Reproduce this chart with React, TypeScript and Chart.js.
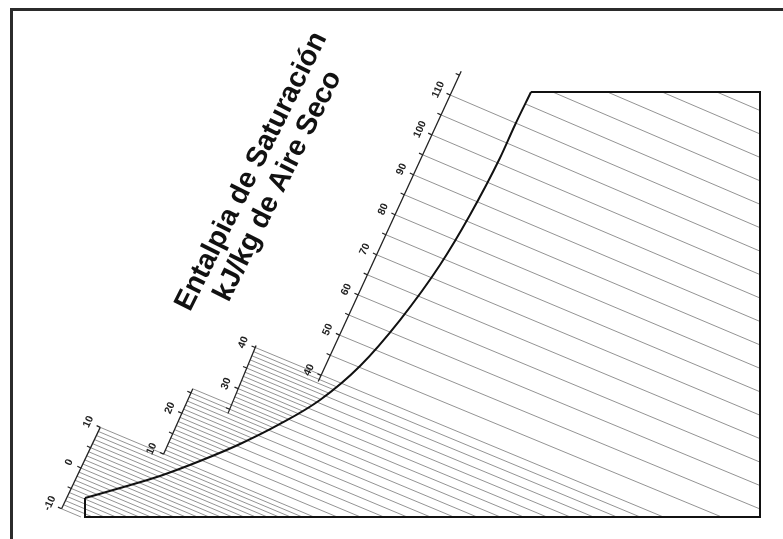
import React, { useEffect, useRef } from "react";
import { Chart, registerables } from "chart.js";

Chart.register(...registerables);

// ---- chart frame (dry-bulb temperature °C, humidity ratio g/kg) ----
const T_MIN = -9.6;
const T_MAX = 48;
const W_MAX = 35;

// Saturation curve
const SAT_T = [-9.6, -6.61, -3.2, 0.21, 3.63, 7.04, 10.45, 13.87, 17.28, 20.69, 23.25, 25.81, 27.09, 28.46];
const SAT_W = [1.56, 2.39, 3.38, 4.61, 6.01, 7.66, 9.64, 12.44, 16.22, 20.75, 24.87, 29.56, 32.28, 35.0];

// Enthalpy lines (kJ/kg dry air)
const LINES_FINE = [-10, -9, -8, -7, -6, -5, -4, -3, -2, -1, 0, 1, 2, 3, 4, 5, 6, 7, 8, 9, 10];
const LINES_MID = [12, 14, 16, 18, 20, 22, 24, 26, 28, 30, 32, 34, 36, 38];
const LINES_COARSE = [40, 45, 50, 55, 60, 65, 70, 75, 80, 85, 90, 95, 100, 105, 110, 115, 120, 125, 130, 135];
const LINES_SHORT = [11, 13, 15, 17, 19, 21, 23, 25, 27, 29, 31, 33, 35, 37, 39];

// Enthalpy scale pieces: enthalpy and dry-bulb temperature at each end
const SCALE_H_FROM = [-10, 10, 24, 38.5];
const SCALE_H_TO = [10, 26, 40.5, 116];
const SCALE_T_FROM = [-11.6, -2.9, 2.6, 10.3];
const SCALE_T_TO = [-8.3, -0.4, 5.0, 22.5];
const SCALE_TICKS = [
  [-10, -5, 0, 5, 10],
  [10, 15, 20, 25],
  [25, 30, 35, 40],
  [40, 45, 50, 55, 60, 65, 70, 75, 80, 85, 90, 95, 100, 105, 110, 115],
];
const SCALE_LABELS = [
  [-10, 0, 10],
  [10, 20],
  [30, 40],
  [40, 50, 60, 70, 80, 90, 100, 110],
];
const LAST_SCALE_LINE = 110;

const TITLE_1 = "Entalpia de Saturación";
const TITLE_2 = "kJ/kg de Aire Seco";

type P = { x: number; y: number };

const hOf = (t: number, w: number) => 1.006 * t + w * (2.501 + 0.00186 * t);
const wOn = (h: number, t: number) => (h - 1.006 * t) / (2.501 + 0.00186 * t);
const tOn = (h: number, w: number) => (h - 2.501 * w) / (1.006 + 0.00186 * w);

function segEnds(i: number): [P, P] {
  return [
    { x: SCALE_T_FROM[i], y: wOn(SCALE_H_FROM[i], SCALE_T_FROM[i]) },
    { x: SCALE_T_TO[i], y: wOn(SCALE_H_TO[i], SCALE_T_TO[i]) },
  ];
}

function onSeg(i: number, h: number): P {
  const [a, b] = segEnds(i);
  let lo = 0, hi = 1;
  for (let k = 0; k < 50; k++) {
    const m = (lo + hi) / 2;
    const v = hOf(a.x + (b.x - a.x) * m, a.y + (b.y - a.y) * m);
    if (v < h) lo = m; else hi = m;
  }
  const s = (lo + hi) / 2;
  return { x: a.x + (b.x - a.x) * s, y: a.y + (b.y - a.y) * s };
}

function scaleStart(h: number): P | null {
  if (h > LAST_SCALE_LINE) return null;
  let best: P | null = null;
  for (let i = 0; i < SCALE_H_FROM.length; i++) {
    if (h >= SCALE_H_FROM[i] - 1e-9 && h <= SCALE_H_TO[i] + 1e-9) {
      const p = onSeg(i, h);
      if (!best || p.x < best.x) best = p;
    }
  }
  return best;
}

function curveCross(h: number): P | null {
  for (let i = 0; i < SAT_T.length - 1; i++) {
    const f0 = hOf(SAT_T[i], SAT_W[i]) - h;
    const f1 = hOf(SAT_T[i + 1], SAT_W[i + 1]) - h;
    if (f0 <= 0 && f1 >= 0 && f1 !== f0) {
      const s = f0 / (f0 - f1);
      return { x: SAT_T[i] + (SAT_T[i + 1] - SAT_T[i]) * s, y: SAT_W[i] + (SAT_W[i + 1] - SAT_W[i]) * s };
    }
  }
  return null;
}

function innerStart(h: number): P | null {
  const c = curveCross(h);
  if (c) return c;
  const t = tOn(h, W_MAX);
  if (t >= SAT_T[SAT_T.length - 1] && t <= T_MAX) return { x: t, y: W_MAX };
  return null;
}

function endPoint(h: number): P {
  const t0 = h / 1.006;
  if (t0 <= T_MAX) return { x: t0, y: 0 };
  return { x: T_MAX, y: wOn(h, T_MAX) };
}

const LINE_COLOR = "rgba(105,105,105,0.72)";

function buildDatasets() {
  const ds: any[] = [];
  const base = { showLine: true, pointRadius: 0, pointHoverRadius: 0, clip: false as any };

  // saturation curve
  ds.push({
    ...base,
    label: "Saturación",
    data: SAT_T.map((t, i) => ({ x: t, y: SAT_W[i] })),
    borderColor: "#111",
    borderWidth: 2,
    cubicInterpolationMode: "monotone",
    order: 0,
  });
  // frame
  ds.push({
    ...base,
    label: "Marco",
    data: [
      { x: T_MIN, y: SAT_W[0] },
      { x: T_MIN, y: 0 },
      { x: T_MAX, y: 0 },
      { x: T_MAX, y: W_MAX },
      { x: SAT_T[SAT_T.length - 1], y: W_MAX },
    ],
    borderColor: "#111",
    borderWidth: 2,
    order: 0,
  });
  // scale pieces
  for (let i = 0; i < SCALE_H_FROM.length; i++) {
    const [a, b] = segEnds(i);
    ds.push({ ...base, label: "Escala " + i, data: [a, b], borderColor: "#222", borderWidth: 1.3, order: 1 });
  }
  // enthalpy lines
  const full = [...LINES_FINE, ...LINES_MID, ...LINES_COARSE];
  full.forEach((h) => {
    const s = scaleStart(h) || innerStart(h);
    if (!s) return;
    const e = endPoint(h);
    ds.push({ ...base, label: "h " + h, data: [s, e], borderColor: LINE_COLOR, borderWidth: 1, order: 2 });
  });
  LINES_SHORT.forEach((h) => {
    const s = scaleStart(h);
    const e = curveCross(h);
    if (!s || !e) return;
    ds.push({ ...base, label: "h " + h, data: [s, e], borderColor: LINE_COLOR, borderWidth: 1, order: 2 });
  });
  return ds;
}

const decorPlugin = {
  id: "decor",
  afterDraw(chart: any) {
    const ctx = chart.ctx as CanvasRenderingContext2D;
    const xs = chart.scales.x;
    const ys = chart.scales.y;
    const px = (p: P) => ({ x: xs.getPixelForValue(p.x), y: ys.getPixelForValue(p.y) });

    ctx.save();
    // outer border (top and left)
    ctx.fillStyle = "#2b2b2b";
    ctx.fillRect(10, 8, 773, 3);
    ctx.fillRect(10, 8, 3, 531);

    // scale ticks and labels
    for (let i = 0; i < SCALE_H_FROM.length; i++) {
      const [a, b] = segEnds(i);
      const pa = px(a), pb = px(b);
      const len = Math.hypot(pb.x - pa.x, pb.y - pa.y);
      const d = { x: (pb.x - pa.x) / len, y: (pb.y - pa.y) / len };
      const n = { x: d.y, y: -d.x };
      const ang = Math.atan2(d.y, d.x);
      ctx.strokeStyle = "#222";
      ctx.lineWidth = 1.2;
      SCALE_TICKS[i].forEach((h) => {
        const p = px(onSeg(i, h));
        ctx.beginPath();
        ctx.moveTo(p.x, p.y);
        ctx.lineTo(p.x + n.x * 4, p.y + n.y * 4);
        ctx.stroke();
      });
      ctx.fillStyle = "#222";
      ctx.font = 'bold 10.5px "Liberation Sans", Arial, sans-serif';
      ctx.textAlign = "center";
      ctx.textBaseline = "middle";
      SCALE_LABELS[i].forEach((h) => {
        const p = px(onSeg(i, h));
        ctx.save();
        ctx.translate(p.x + n.x * 13, p.y + n.y * 13);
        ctx.rotate(ang);
        ctx.fillText(String(h), 0, 0);
        ctx.restore();
      });
    }

    // rotated title
    const tAng = (-63.5 * Math.PI) / 180;
    ctx.fillStyle = "#111";
    ctx.font = 'bold 28.5px "Liberation Sans", Arial, sans-serif';
    ctx.textAlign = "center";
    ctx.textBaseline = "middle";
    ctx.save();
    ctx.translate(251.5, 171.5);
    ctx.rotate(tAng);
    ctx.fillText(TITLE_1, 0, 0);
    ctx.restore();
    ctx.save();
    ctx.translate(278, 186);
    ctx.rotate(tAng);
    ctx.fillText(TITLE_2, 0, 0);
    ctx.restore();
    ctx.restore();
  },
};

export default function App() {
  const ref = useRef<HTMLCanvasElement | null>(null);
  useEffect(() => {
    if (!ref.current) return;
    const chart = new Chart(ref.current, {
      type: "scatter",
      data: { datasets: buildDatasets() },
      options: {
        animation: false,
        responsive: false,
        maintainAspectRatio: false,
        devicePixelRatio: 1,
        layout: { padding: { left: 85, right: 23, top: 92, bottom: 22 } },
        plugins: { legend: { display: false }, tooltip: { enabled: false }, title: { display: false } },
        events: [],
        scales: {
          x: { type: "linear", min: T_MIN, max: T_MAX, display: false },
          y: { type: "linear", min: 0, max: W_MAX, display: false },
        },
      },
      plugins: [decorPlugin],
    });
    return () => chart.destroy();
  }, []);
  return (
    <div style={{ position: "absolute", left: 0, top: 0, width: 783, height: 539, background: "#fff" }}>
      <canvas ref={ref} width={783} height={539} style={{ width: 783, height: 539, display: "block" }} />
    </div>
  );
}
